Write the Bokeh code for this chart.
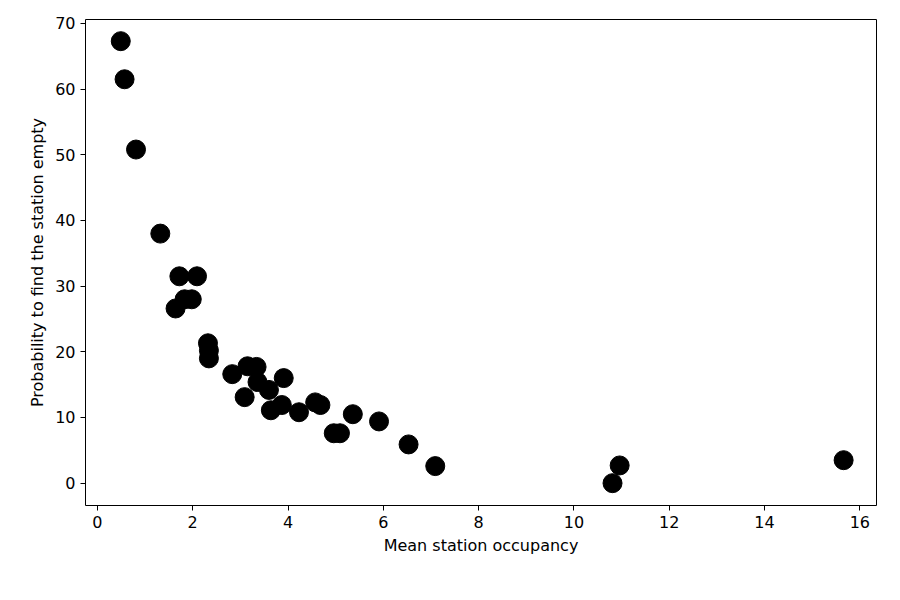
from bokeh.plotting import figure
from bokeh.models import Range1d, FixedTicker
from bokeh.embed import file_html
from bokeh.resources import INLINE

# mean occupancy vs probability of empty station
occupancy = [0.49, 0.57, 0.81, 1.32, 1.72, 2.09, 1.83, 1.98, 1.64, 2.32, 2.34, 2.34,
             2.83, 3.15, 3.34, 3.36, 3.09, 3.6, 3.91, 3.64, 3.87, 4.23, 4.57, 4.68,
             4.96, 5.09, 5.36, 5.91, 6.53, 7.09, 10.81, 10.96, 15.66]
prob_empty = [67.3, 61.5, 50.8, 38.0, 31.5, 31.5, 28.0, 28.0, 26.6, 21.3, 20.2, 19.0,
              16.6, 17.8, 17.7, 15.4, 13.1, 14.2, 16.0, 11.1, 11.9, 10.8, 12.3, 11.9,
              7.6, 7.6, 10.5, 9.4, 5.9, 2.6, 0.0, 2.7, 3.5]

p = figure(width=880, height=580, output_backend="svg", toolbar_location=None,
           x_range=Range1d(-0.25, 16.35), y_range=Range1d(-3.4, 70.6),
           min_border_left=85, min_border_right=4, min_border_top=19, min_border_bottom=75)
p.scatter(occupancy, prob_empty, size=19, color="black")

p.grid.visible = False
p.outline_line_color = "black"
p.xaxis.ticker = FixedTicker(ticks=list(range(0, 17, 2)))
p.yaxis.ticker = FixedTicker(ticks=list(range(0, 71, 10)))
p.xaxis.axis_label = "Mean station occupancy"
p.yaxis.axis_label = "Probability to find the station empty"
for ax in (p.xaxis[0], p.yaxis[0]):
    ax.axis_label_text_font = "DejaVu Sans"
    ax.axis_label_text_font_style = "normal"
    ax.axis_label_text_font_size = "12pt"
    ax.axis_label_text_color = "black"
    ax.major_label_text_font = "DejaVu Sans"
    ax.major_label_text_font_size = "12pt"
    ax.major_label_text_color = "black"
    ax.minor_tick_line_color = None
    ax.major_tick_in = 0
    ax.major_tick_out = 5
    ax.axis_line_color = None

open("out.html", "w").write(file_html(p, INLINE))
